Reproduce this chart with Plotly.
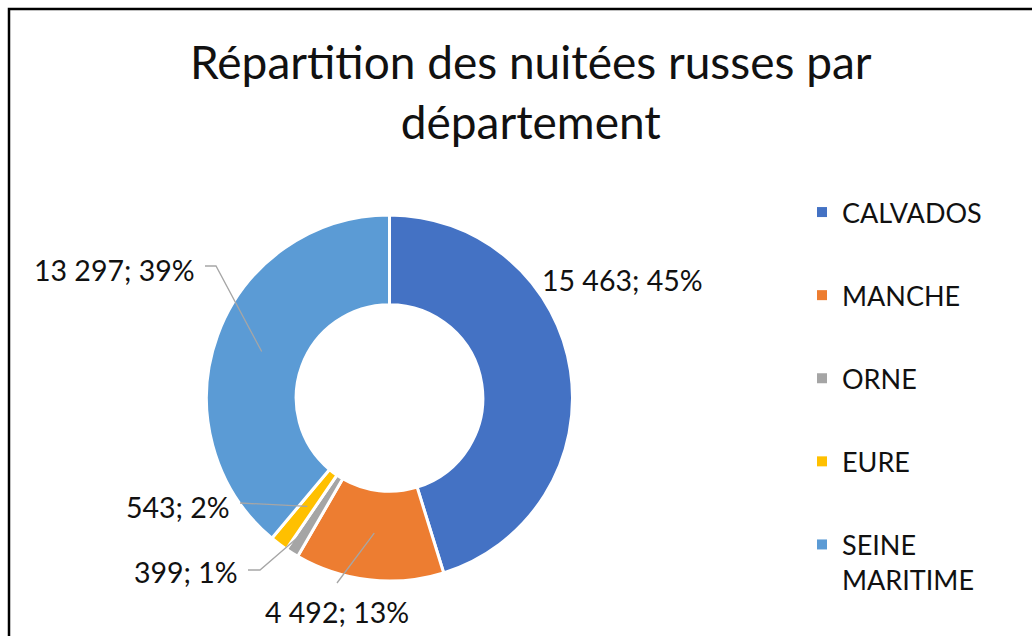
import math
import plotly.graph_objects as go

# ---- data ----
departements = ["CALVADOS", "MANCHE", "ORNE", "EURE", "SEINE MARITIME"]
legend_names = ["CALVADOS", "MANCHE", "ORNE", "EURE", "SEINE<br>MARITIME"]
nuitees = [15463, 4492, 399, 543, 13297]
colors = ["#4472C4", "#ED7D31", "#A5A5A5", "#FFC000", "#5B9BD5"]

W, H = 1032, 636
FONT = "Lato"
TXT = "#111111"


def px(x):
    return x / W


def py(y):
    return 1 - y / H


# donut geometry (pixels)
CX, CY, R = 389.5, 398, 183
dom_x = [px(CX - R), px(CX + R)]
dom_y = [py(CY + R), py(CY - R)]

fig = go.Figure()
fig.add_trace(go.Pie(
    labels=departements, values=nuitees, sort=False, direction="clockwise",
    rotation=0, hole=0.51, textinfo="none", showlegend=False,
    marker=dict(colors=colors, line=dict(color="white", width=3)),
    domain=dict(x=dom_x, y=dom_y),
))

# legend entries
for name, c in zip(legend_names, colors):
    fig.add_trace(go.Scatter(
        x=[None], y=[None], mode="markers", name=name, legendgroup=name,
        marker=dict(symbol="square", size=10, color=c),
    ))

# data labels
total = sum(nuitees)
label_style = [
    dict(x=540, y=280, xanchor="left", pts=None, r=None),
    dict(x=337, y=612, xanchor="center", pts=[(337, 583)], r=136),
    dict(x=240, y=572, xanchor="right", pts=[(248, 570), (260, 570)], r=156),
    dict(x=232, y=507, xanchor="right", pts=[(240, 503)], r=136),
    dict(x=197, y=270, xanchor="right", pts=[(205, 266), (216, 266)], r=136),
]

annotations = []
shapes = []
cum = 0
for v, st in zip(nuitees, label_style):
    mid = (cum + v / 2) / total * 2 * math.pi
    cum += v
    pct = round(v / total * 100)
    txt = f"{v:,}".replace(",", " ") + f"; {pct}%"
    annotations.append(dict(
        x=px(st["x"]), y=py(st["y"]), xref="paper", yref="paper",
        text=txt, showarrow=False, xanchor=st["xanchor"], yanchor="middle",
        font=dict(family=FONT, size=28.5, color=TXT),
    ))
    if st["pts"]:
        ax = CX + st["r"] * math.sin(mid)
        ay = CY - st["r"] * math.cos(mid)
        pts = st["pts"] + [(ax, ay)]
        path = "M " + " L ".join(f"{px(a)},{py(b)}" for a, b in pts)
        shapes.append(dict(type="path", path=path, xref="paper", yref="paper",
                           line=dict(color="#A6A6A6", width=1.3)))

# title
annotations.append(dict(
    x=px(531), y=py(91), xref="paper", yref="paper",
    text="Répartition des nuitées russes par<br>département",
    showarrow=False, xanchor="center", yanchor="middle",
    font=dict(family=FONT, size=46, color=TXT),
))

# chart border
shapes.append(dict(type="rect", xref="paper", yref="paper",
                   x0=px(9), y0=-0.1, x1=1.1, y1=py(9),
                   line=dict(color="#000000", width=2.5)))

fig.update_layout(
    width=W, height=H,
    margin=dict(l=0, r=0, t=0, b=0),
    paper_bgcolor="white", plot_bgcolor="white",
    xaxis=dict(visible=False), yaxis=dict(visible=False),
    annotations=annotations, shapes=shapes,
    showlegend=True,
    legend=dict(x=px(802), y=py(188), xanchor="left", yanchor="top",
                font=dict(family=FONT, size=27, color=TXT),
                tracegroupgap=45, valign="top", bgcolor="rgba(0,0,0,0)"),
)

fig.write_html("out.html", config={"displayModeBar": False},
               post_script="document.body.style.margin='0';")
